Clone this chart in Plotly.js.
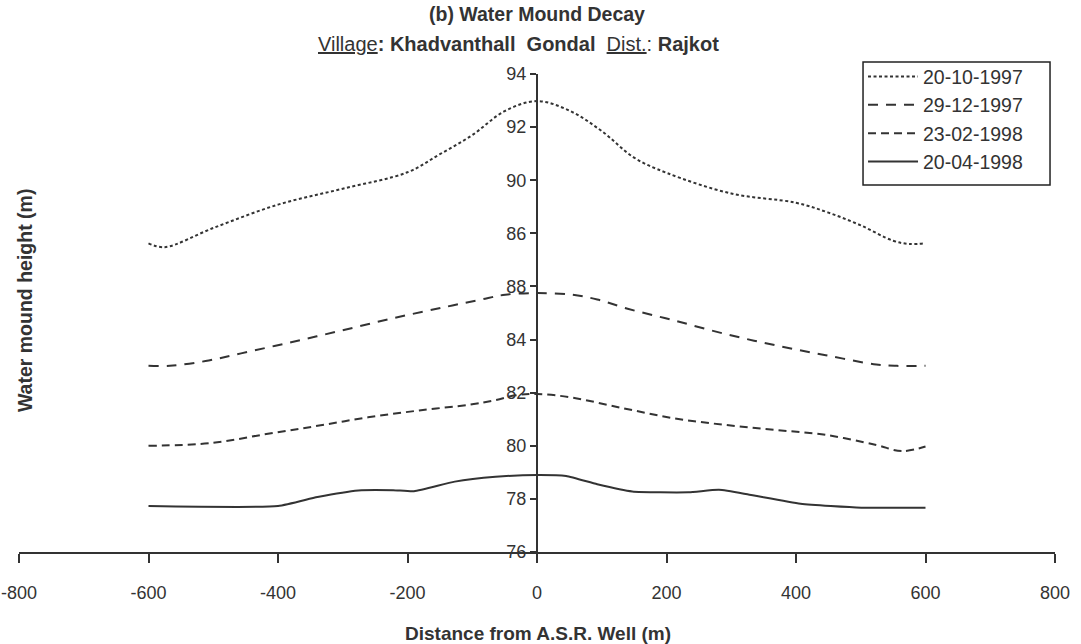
<!DOCTYPE html>
<html>
<head>
<meta charset="utf-8">
<script src="https://cdn.plot.ly/plotly-3.0.1.min.js"></script>
<style>html,body{margin:0;padding:0;background:#fff;}#chart{width:1081px;height:644px;}</style>
</head>
<body>
<div id="chart"></div>
<script>
// Series names
const seriesNames = ["20-10-1997", "29-12-1997", "23-02-1998", "20-04-1998"];

// Distance from A.S.R. well (m) and water mound height (m)
const xOct97 = [-600, -575, -500, -400, -300, -200, -150, -100, -50, 0, 50, 100, 150, 200, 300, 400, 450, 500, 550, 575, 600];
const yOct97 = [87.62, 87.48, 88.2, 89.08, 89.68, 90.3, 90.98, 91.7, 92.6, 92.98, 92.62, 91.85, 90.85, 90.28, 89.5, 89.15, 88.78, 88.3, 87.72, 87.6, 87.63];

const xDec97 = [-600, -567, -512, -457, -378, -300, -221, -143, -80, -49, 0, 53, 93, 140, 210, 289, 367, 446, 524, 556, 600];
const yDec97 = [83.01, 83.01, 83.19, 83.48, 83.91, 84.35, 84.81, 85.22, 85.54, 85.69, 85.75, 85.69, 85.51, 85.16, 84.73, 84.22, 83.79, 83.41, 83.06, 83.01, 83.01];

const xFeb98 = [-600, -504, -418, -339, -261, -182, -104, -64, -33, 0, 53, 132, 210, 289, 367, 446, 524, 563, 600];
const yFeb98 = [80.0, 80.1, 80.44, 80.75, 81.07, 81.33, 81.55, 81.72, 81.9, 81.95, 81.82, 81.42, 81.04, 80.79, 80.6, 80.41, 80.03, 79.8, 79.97];

const xApr98 = [-600, -400, -339, -276, -222, -190, -127, -64, 0, 45, 93, 147, 234, 281, 328, 407, 501, 600];
const yApr98 = [77.73, 77.73, 78.07, 78.32, 78.33, 78.29, 78.65, 78.83, 78.9, 78.86, 78.55, 78.28, 78.25, 78.34, 78.16, 77.82, 77.67, 77.67];

// Axis ticks
const xTicks = [-800, -600, -400, -200, 0, 200, 400, 600, 800];
const yTicks = [76, 78, 80, 82, 84, 86, 88, 90, 92, 94];
const yTickText = ["76", "78", "80", "82", "84", "88", "86", "90", "92", "94"];

const INK = "#333333";
const FONT = "Liberation Sans, Arial, sans-serif";

const traces = [
  {x: xOct97, y: yOct97, name: seriesNames[0], mode: "lines",
   line: {color: INK, width: 2, dash: "3px,2.5px", shape: "spline", smoothing: 1}},
  {x: xDec97, y: yDec97, name: seriesNames[1], mode: "lines",
   line: {color: INK, width: 2, dash: "10px,8px", shape: "spline", smoothing: 1}},
  {x: xFeb98, y: yFeb98, name: seriesNames[2], mode: "lines",
   line: {color: INK, width: 2, dash: "8px,5px", shape: "spline", smoothing: 1}},
  {x: xApr98, y: yApr98, name: seriesNames[3], mode: "lines",
   line: {color: INK, width: 2, shape: "spline", smoothing: 0.5}}
];

const layout = {
  width: 1081, height: 644,
  margin: {l: 19, r: 26, t: 74, b: 92},
  paper_bgcolor: "#fff", plot_bgcolor: "#fff",
  font: {family: FONT, color: INK, size: 18},
  showlegend: true,
  legend: {x: 0.8147, y: 1.035, xanchor: "left", yanchor: "top",
           borderwidth: 0, bgcolor: "rgba(0,0,0,0)",
           itemwidth: 50,
           font: {size: 19.5, family: FONT, color: INK}, tracegroupgap: 0},
  shapes: [
    {type: "rect", xref: "paper", yref: "paper", x0: 0.8147, x1: 0.9952, y0: 0.7678, y1: 1.0251,
     line: {color: "#222", width: 1.5}, fillcolor: "#fff", layer: "below"}
  ],
  xaxis: {range: [-800, 800], tickvals: xTicks, ticktext: xTicks.map(String),
          showline: true, linecolor: INK, linewidth: 2,
          ticks: "outside", ticklen: 9, tickwidth: 2, tickcolor: INK,
          showgrid: false, zeroline: false, tickfont: {size: 18},
          ticklabelstandoff: 14, fixedrange: true},
  yaxis: {range: [76, 94], tickvals: yTicks, ticktext: yTickText,
          anchor: "free", position: 0.5, side: "left",
          showline: true, linecolor: INK, linewidth: 2,
          ticks: "outside", ticklen: 6, tickwidth: 2, tickcolor: INK,
          showgrid: false, zeroline: false, tickfont: {size: 18}, fixedrange: true},
  yaxis2: {range: [76, 94], tickvals: yTicks, overlaying: "y",
           anchor: "free", position: 0.5, side: "right",
           showline: false, ticks: "outside", ticklen: 5, tickwidth: 2, tickcolor: INK,
           showticklabels: false, showgrid: false, zeroline: false},
  xaxis2: {range: [-800, 800], tickvals: xTicks, overlaying: "x",
           anchor: "free", position: 0, side: "top",
           showline: false, ticks: "outside", ticklen: 4, tickwidth: 2, tickcolor: INK,
           showticklabels: false, showgrid: false, zeroline: false},
  annotations: [
    {text: "<b>(b) Water Mound Decay</b>", xref: "paper", yref: "paper",
     x: 0.5, y: 1.1255, xanchor: "center", yanchor: "middle", showarrow: false,
     font: {size: 19.5, family: FONT, color: INK}},
    {text: "<span style='text-decoration:underline'>Village</span><b>: Khadvanthall&nbsp; Gondal</b>&nbsp; <span style='text-decoration:underline'>Dist.</span>: <b>Rajkot</b>",
     xref: "paper", yref: "paper", x: 0.4817, y: 1.0628, xanchor: "center", yanchor: "middle",
     showarrow: false, font: {size: 20, family: FONT, color: INK}},
    {text: "<b>Distance from A.S.R. Well (m)</b>", xref: "paper", yref: "paper",
     x: 0.501, y: -0.1695, xanchor: "center", yanchor: "middle", showarrow: false,
     font: {size: 19, family: FONT, color: INK}},
    {text: "<b>Water mound height (m)</b>", xref: "paper", yref: "paper",
     x: 0.0058, y: 0.527, xanchor: "center", yanchor: "middle", textangle: -90, showarrow: false,
     font: {size: 19.5, family: FONT, color: INK}}
  ]
};

Plotly.newPlot("chart", traces, layout, {displayModeBar: false, staticPlot: true});
</script>
</body>
</html>
